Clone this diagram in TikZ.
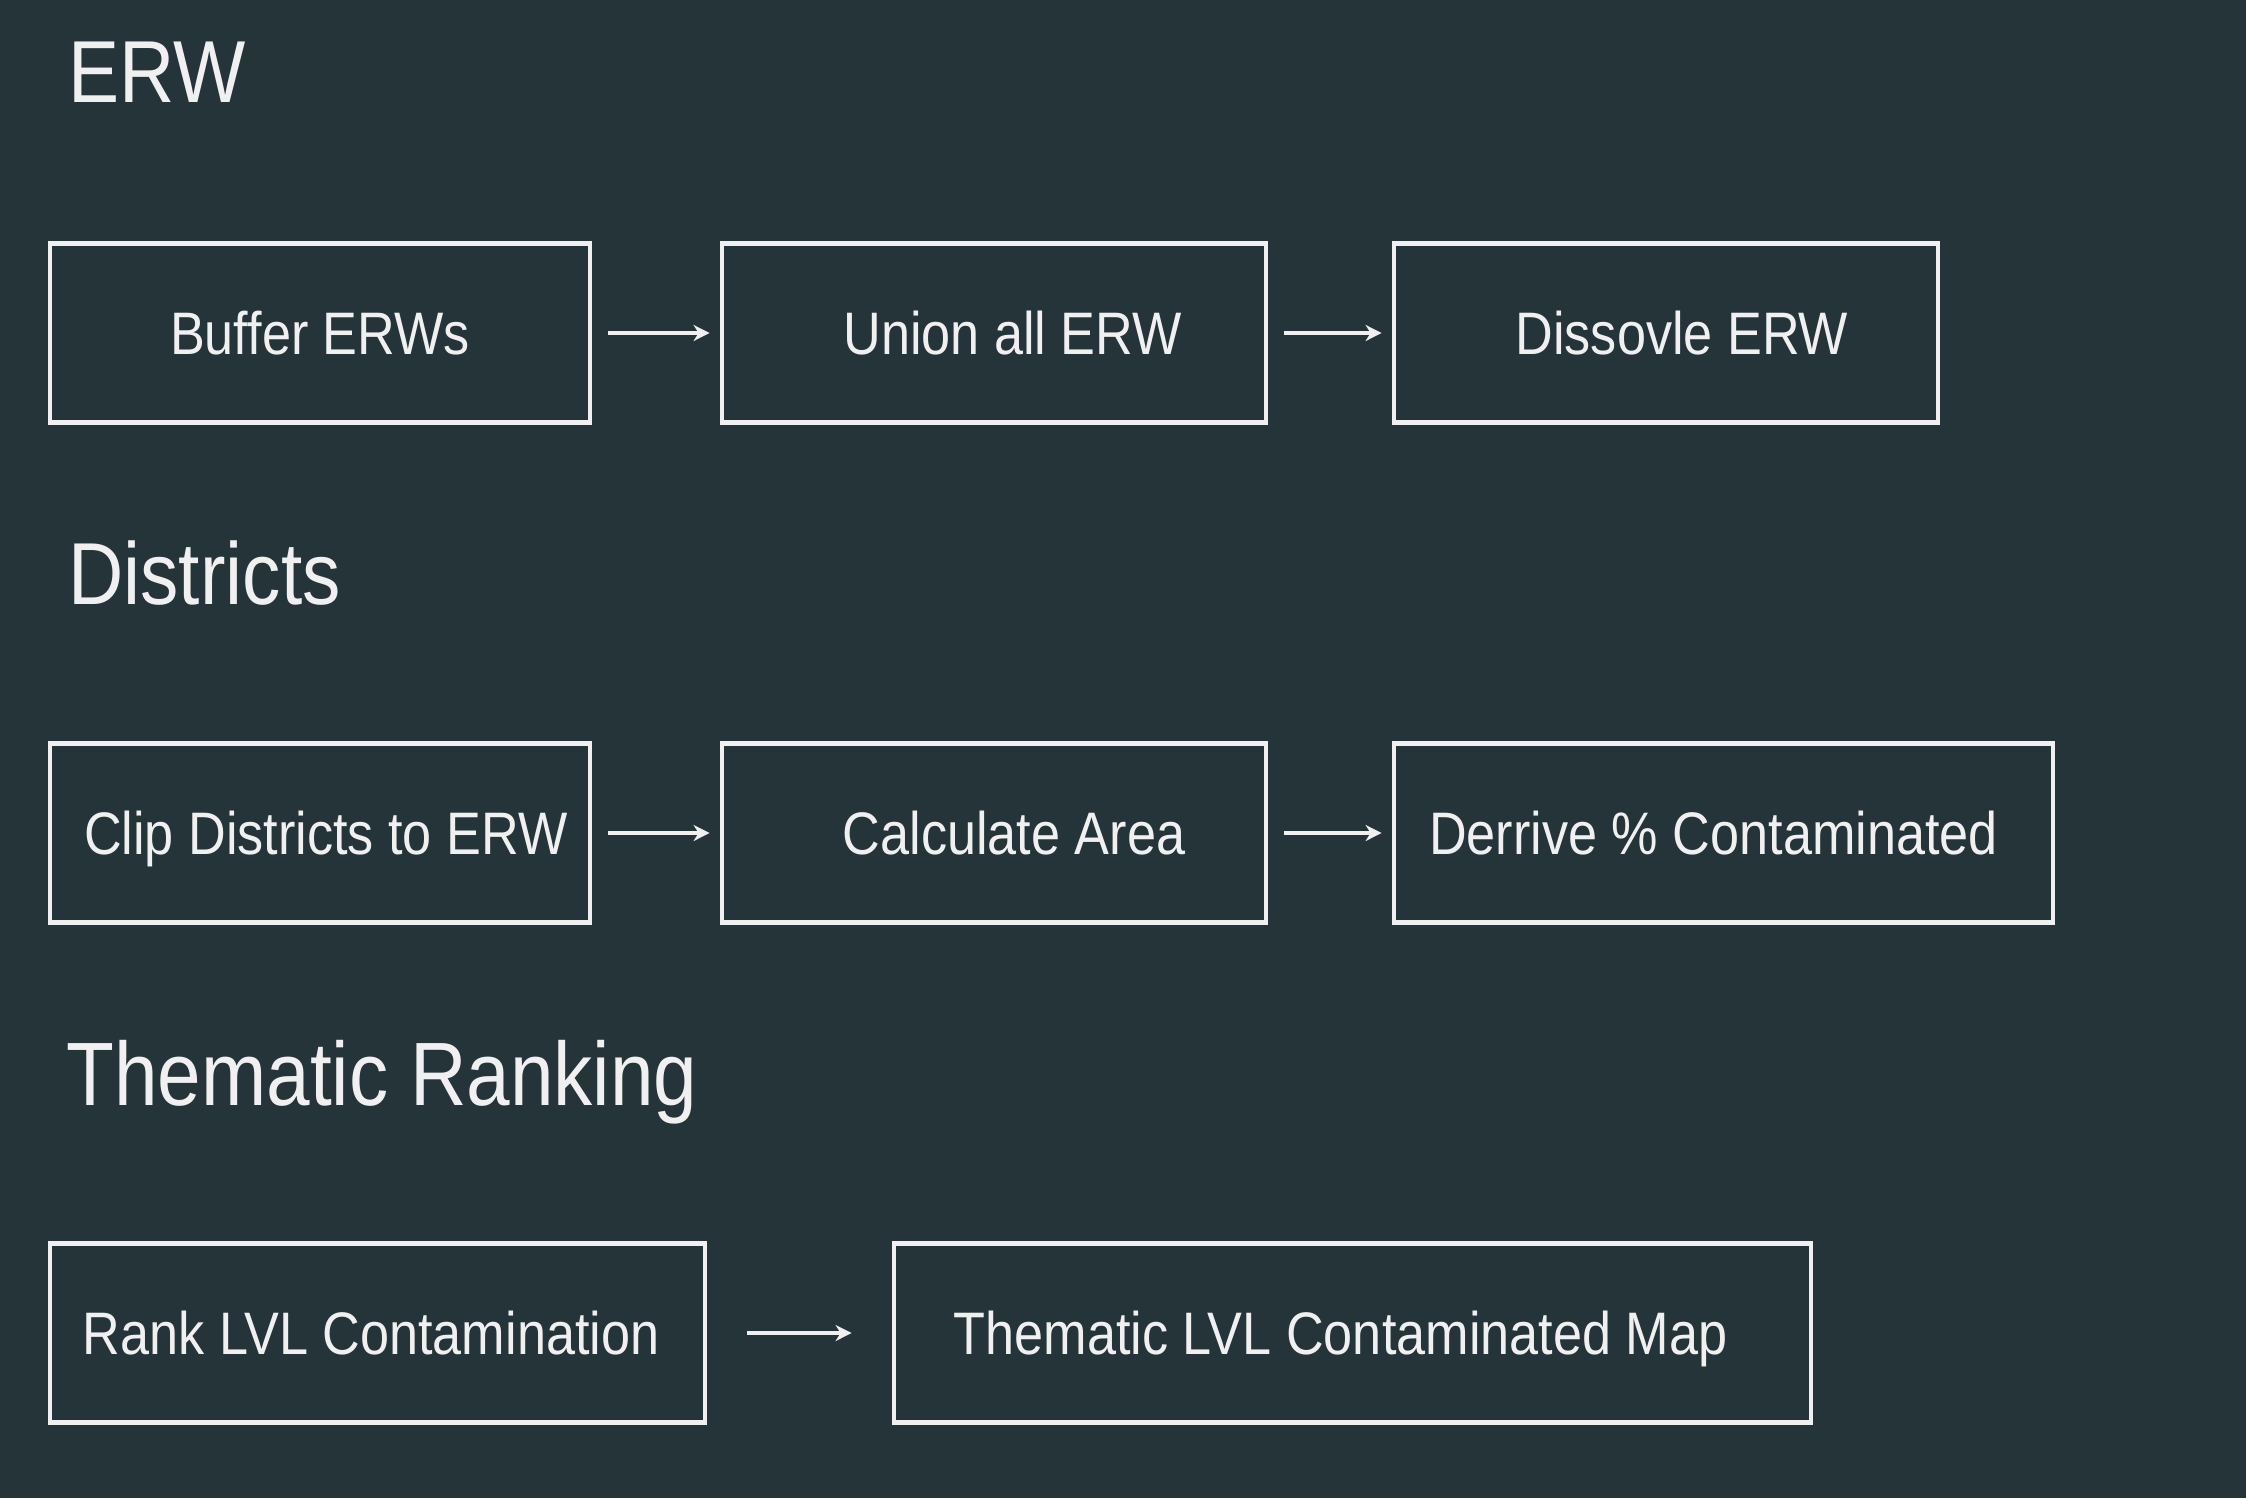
\documentclass[tikz,border=0pt]{standalone}
\usepackage{fontspec}
\setmainfont[FakeStretch=0.87]{Liberation Sans}
\usetikzlibrary{arrows.meta}
\definecolor{bg}{RGB}{36,52,56}
\definecolor{fg}{RGB}{240,240,240}
\tikzset{
  stepbox/.style={draw=fg, line width=2.4pt, inner sep=0pt, text=fg,
    font=\fontsize{30pt}{36pt}\selectfont, text height=21.6pt, text depth=0pt,
    minimum height=89.5pt},
  heading/.style={anchor=base west, inner sep=0pt, text=fg,
    font=\fontsize{44pt}{52pt}\selectfont},
  arr/.style={draw=fg, line width=2.4pt, -{Stealth[length=8pt,width=8pt,inset=2.5pt]}},
}
\begin{document}
\begin{tikzpicture}[x=0.5pt,y=-0.5pt]
\fill[bg] (0,0) rectangle (2246,1498);
\useasboundingbox (0,0) rectangle (2246,1498);

\node[heading] (hERW) at (68,103) {ERW};
\node[heading] (hDist) at (68,604) {Districts};
\node[heading] (hTheme) at (66,1105) {\fontsize{45pt}{52pt}\selectfont Thematic Ranking};

\node[stepbox, minimum width=270pt] (b11) at (320,333) {Buffer ERWs};
\node[stepbox, minimum width=272pt] (b12) at (994,333) {\hspace*{18.6pt}Union all ERW};
\node[stepbox, minimum width=272pt] (b13) at (1666,333) {\hspace*{15.8pt}Dissovle ERW};

\node[stepbox, minimum width=270pt] (b21) at (320,833) {\hspace*{5.7pt}Clip Districts to ERW};
\node[stepbox, minimum width=272pt] (b22) at (994,833) {\hspace*{20pt}Calculate Area};
\node[stepbox, minimum width=329.5pt] (b23) at (1723.5,833) {Derrive \% Contaminated\hspace*{10pt}};

\node[stepbox, minimum width=327.5pt] (b31) at (377.5,1333) {Rank LVL Contamination\hspace*{6.4pt}};
\node[stepbox, minimum width=458.5pt] (b32) at (1352.5,1333) {Thematic LVL Contaminated Map\hspace*{12pt}};

\draw[arr, shorten <=8pt, shorten >=5pt] (b11.east) -- (b12.west);
\draw[arr, shorten <=8pt, shorten >=5pt] (b12.east) -- (b13.west);
\draw[arr, shorten <=8pt, shorten >=5pt] (b21.east) -- (b22.west);
\draw[arr, shorten <=8pt, shorten >=5pt] (b22.east) -- (b23.west);
\draw[arr, shorten <=20pt, shorten >=20pt] (b31.east) -- (b32.west);
\end{tikzpicture}
\end{document}
